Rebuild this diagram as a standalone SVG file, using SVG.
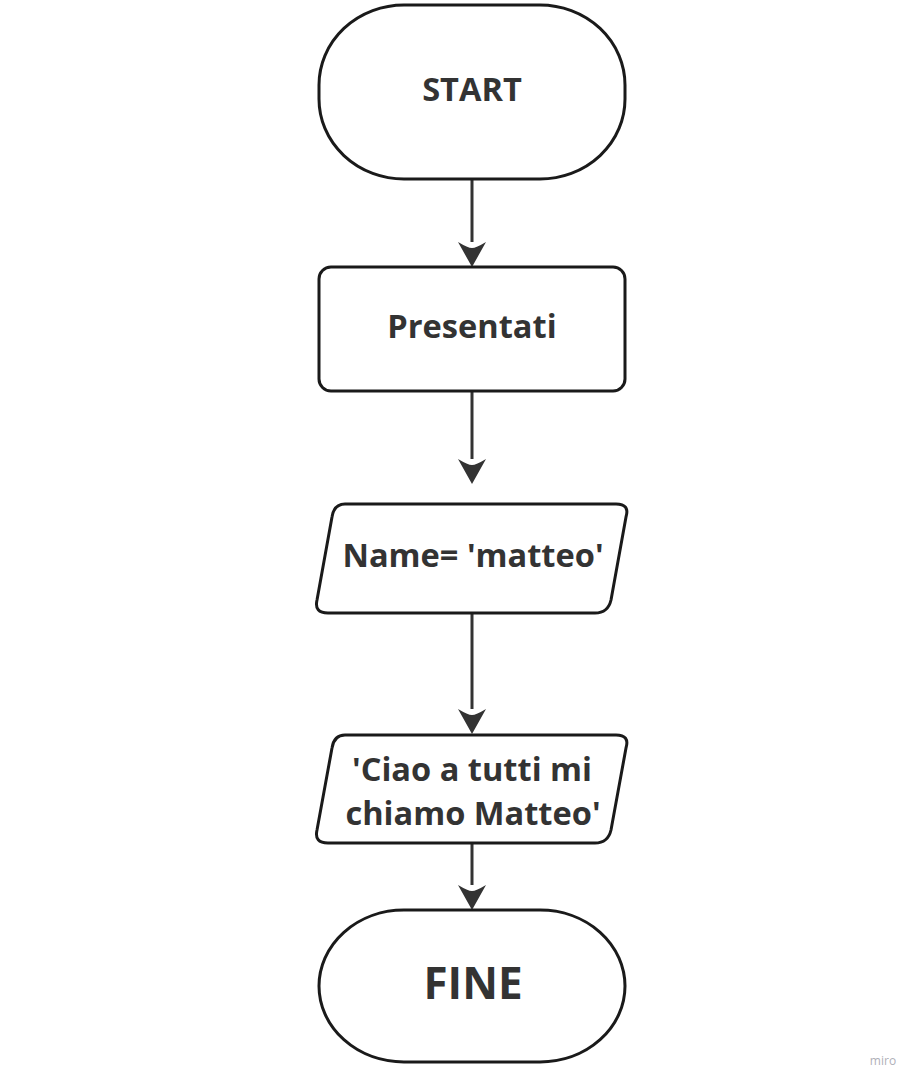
<svg xmlns="http://www.w3.org/2000/svg" width="919" height="1088" viewBox="0 0 919 1088">
<style>
.shape{fill:#fff;stroke:#1a1a1a;stroke-width:3;stroke-linejoin:round}
.lbl{font-family:"Open Sans","Liberation Sans",sans-serif;font-weight:bold;fill:#333;text-anchor:middle;font-size:32.6px}
.edge{stroke:#333;stroke-width:3;fill:none}
.head{fill:#333}
</style>
<rect width="919" height="1088" fill="#fff"/>
<g id="connectors">
<line class="edge" x1="472" y1="180" x2="472" y2="242"/>
<path class="head" d="M458,242 Q468,248 472,248 Q476,248 486,242 L472,267 Z"/>
<line class="edge" x1="472" y1="392" x2="472" y2="459"/>
<path class="head" d="M458,459 Q468,465 472,465 Q476,465 486,459 L472,484 Z"/>
<line class="edge" x1="472" y1="614" x2="472" y2="709"/>
<path class="head" d="M458,709 Q468,715 472,715 Q476,715 486,709 L472,734 Z"/>
<line class="edge" x1="472" y1="844" x2="472" y2="885"/>
<path class="head" d="M458,885 Q468,891 472,891 Q476,891 486,885 L472,910 Z"/>
</g>
<g id="start">
<rect class="shape" x="319" y="5" width="306" height="174" rx="85" ry="80"/>
<text class="lbl" x="472" y="101">START</text>
</g>
<g id="presentati">
<rect class="shape" x="319" y="267" width="306" height="124" rx="12"/>
<text class="lbl" x="472" y="338">Presentati</text>
</g>
<g id="name">
<path class="shape" d="M345,504 L616,504 Q630,504 626,517 L611,600 Q608,613 595,613 L328,613 Q314,613 317,600 L332,517 Q334,504 345,504 Z"/>
<text class="lbl" x="473" y="567">Name= 'matteo'</text>
</g>
<g id="ciao">
<path class="shape" d="M345,735 L616,735 Q630,735 626,748 L611,830 Q608,843 595,843 L328,843 Q314,843 317,830 L332,748 Q334,735 345,735 Z"/>
<text class="lbl" x="472" y="781">'Ciao a tutti mi</text>
<text class="lbl" x="473" y="825">chiamo Matteo'</text>
</g>
<g id="fine">
<rect class="shape" x="319" y="910" width="306" height="152" rx="85" ry="76"/>
<text class="lbl" x="473" y="999" style="font-size:44px">FINE</text>
</g>
<text x="883" y="1065" font-family="'Open Sans','Liberation Sans',sans-serif" font-size="12" fill="#b0b0b8" text-anchor="middle">miro</text>
</svg>
